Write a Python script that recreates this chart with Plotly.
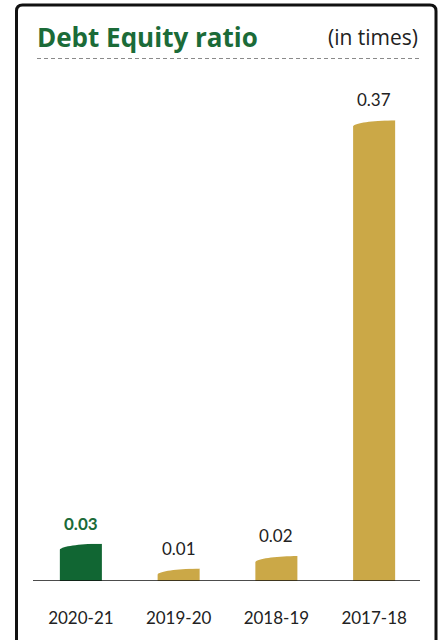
import plotly.graph_objects as go
import numpy as np

categories = ["2020-21", "2019-20", "2018-19", "2017-18"]
values = [0.03, 0.01, 0.02, 0.37]
labels = ["0.03", "0.01", "0.02", "0.37"]
bar_colors = ["#116633", "#CBA847", "#CBA847", "#CBA847"]
label_colors = ["#1B6B38", "#222222", "#222222", "#222222"]
label_weights = ["bold", "normal", "normal", "normal"]

W, H = 446, 640
ML, MR, MB, MT = 32, 23, 59, 83
YMAX = 0.4
BARGAP = 0.57

fig = go.Figure()
fig.add_trace(go.Bar(
    x=list(range(len(categories))), y=values,
    marker=dict(color=bar_colors, line=dict(width=0)),
    hoverinfo="skip", showlegend=False,
))

plot_h = H - MB - MT
px_per_unit = plot_h / YMAX
cut_px = 7
d = cut_px / px_per_unit
half_w = (1 - BARGAP) / 2

shapes = []
# carve curved top-left corner of each bar (white overlay)
for i, v in enumerate(values):
    x0 = i - half_w - 0.01
    x1 = i + half_w
    th = np.linspace(0, np.pi / 2, 20)
    xs = x1 - (x1 - x0) * np.cos(th)
    ys = v - d + d * np.sin(th)
    path = f"M {x0},{v - d} " + " ".join(f"L {a},{b}" for a, b in zip(xs, ys))
    path += f" L {x1},{v + 0.002} L {x0},{v + 0.002} Z"
    shapes.append(dict(type="path", xref="x", yref="y", path=path,
                       fillcolor="white", line=dict(width=0), layer="above"))

pw = W - ML - MR
def px_x(p):
    return (p - ML) / pw
def px_y(p):
    return (H - MB - p) / plot_h

# frame with rounded top corners
l, r, t, b = px_x(16.5), px_x(436), px_y(5), px_y(700)
rx, ry = 6 / pw, 6 / plot_h
frame = (f"M {l},{b} L {l},{t - ry} Q {l},{t} {l + rx},{t} "
         f"L {r - rx},{t} Q {r},{t} {r},{t - ry} L {r},{b}")
shapes.append(dict(type="path", xref="paper", yref="paper", path=frame,
                   line=dict(color="#111111", width=3)))
# dashed line under title
shapes.append(dict(type="line", xref="paper", yref="paper",
                   x0=px_x(37), x1=px_x(420), y0=px_y(58.5), y1=px_y(58.5),
                   line=dict(color="#8a8a8a", width=1, dash="4px,3px")))
# baseline
shapes.append(dict(type="line", xref="paper", yref="y",
                   x0=px_x(33), x1=px_x(420), y0=0, y1=0,
                   line=dict(color="#111111", width=1.5)))

annotations = [
    dict(text="<b>Debt Equity ratio</b>", xref="paper", yref="paper",
         x=px_x(35), y=px_y(37), xanchor="left", yanchor="middle",
         showarrow=False, font=dict(family="Open Sans", size=26, color="#1B6B38")),
    dict(text="(in times)", xref="paper", yref="paper",
         x=px_x(420), y=px_y(37), xanchor="right", yanchor="middle",
         showarrow=False, font=dict(family="Open Sans", size=21, color="#222222")),
]
for i, (v, lab) in enumerate(zip(values, labels)):
    txt = f"<b>{lab}</b>" if label_weights[i] == "bold" else lab
    annotations.append(dict(text=txt, x=i, y=v, xref="x", yref="y",
                            yanchor="bottom", yshift=8, showarrow=False,
                            font=dict(family="Lato", size=17, color=label_colors[i])))

fig.update_layout(
    width=W, height=H,
    margin=dict(l=ML, r=MR, t=MT, b=MB),
    paper_bgcolor="white", plot_bgcolor="white",
    bargap=BARGAP,
    shapes=shapes, annotations=annotations,
    xaxis=dict(tickmode="array", tickvals=list(range(len(categories))),
               ticktext=categories, range=[-0.5, len(categories) - 0.5],
               showgrid=False, zeroline=False, showline=False,
               ticks="", ticklabelstandoff=25,
               tickfont=dict(family="Lato", size=17, color="#222222")),
    yaxis=dict(range=[0, YMAX], visible=False, showgrid=False, zeroline=False),
)

fig.write_html("out.html")
